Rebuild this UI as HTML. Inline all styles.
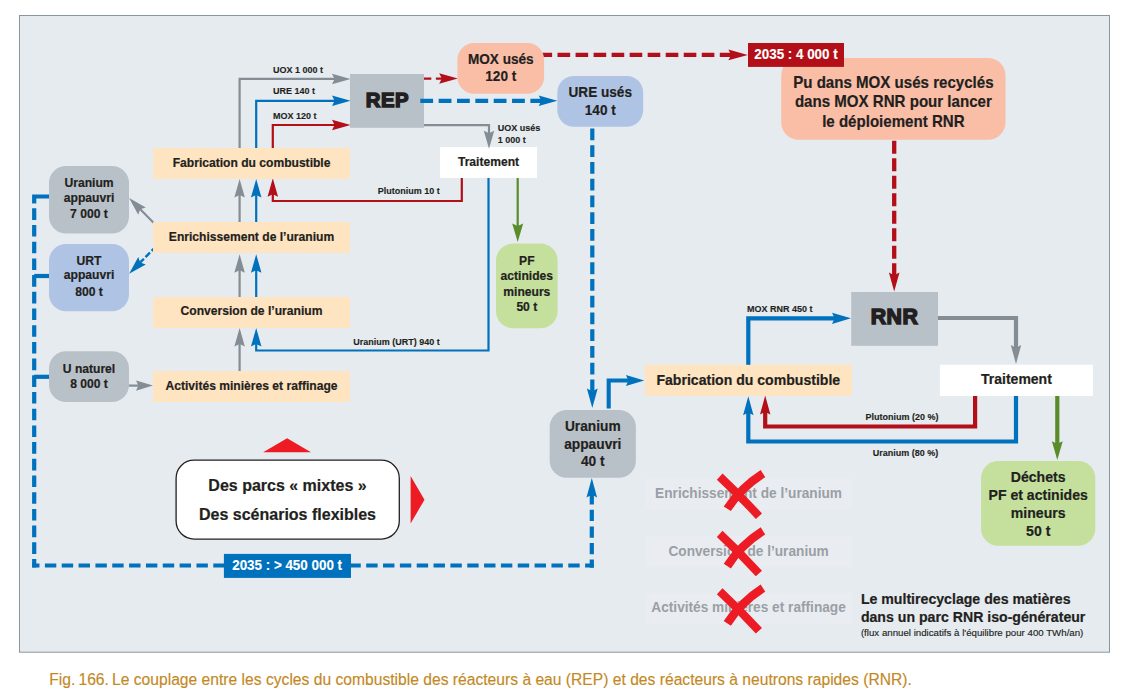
<!DOCTYPE html>
<html lang="fr"><head><meta charset="utf-8"><title>Fig. 166</title>
<style>
html,body{margin:0;padding:0;background:#ffffff;}
body{width:1124px;height:694px;overflow:hidden;}
svg{display:block;font-family:"Liberation Sans",sans-serif;}
</style></head><body>
<svg width="1124" height="694" viewBox="0 0 1124 694">
<rect x="19" y="15" width="1091" height="637.7" fill="#8a969e"/>
<rect x="20" y="16" width="1089" height="635.7" fill="#e6ebf0"/>
<path d="M50 196.5 L34.2 196.5 L34.2 203.2" fill="none" stroke="#0071bc" stroke-width="4.2"/>
<path d="M34.2 203 L34.2 567.5" fill="none" stroke="#0071bc" stroke-width="4.2" stroke-dasharray="11.6 5.1" stroke-dashoffset="11.4"/>
<path d="M32.2 565.5 L224 565.5" fill="none" stroke="#0071bc" stroke-width="4.2" stroke-dasharray="11.4 5.44" stroke-dashoffset="4.14"/>
<path d="M340 565.5 L593.8 565.5" fill="none" stroke="#0071bc" stroke-width="4.2" stroke-dasharray="11.4 5.44" stroke-dashoffset="7.48"/>
<path d="M591.8 567.7 L591.8 494" fill="none" stroke="#0071bc" stroke-width="4.2" stroke-dasharray="11.3 5.3" stroke-dashoffset="3.2"/>
<path d="M34.2 276 L50 276" fill="none" stroke="#0071bc" stroke-width="4.2"/>
<path d="M34.2 376.8 L50 376.8" fill="none" stroke="#0071bc" stroke-width="4.2"/>
<polygon points="591.80,477.90 586.50,497.40 591.80,494.67 597.10,497.40" fill="#0071bc"/>
<path d="M239.6 148 L239.6 78.9 L336 78.9" fill="none" stroke="#838d93" stroke-width="2.2"/>
<polygon points="350.60,78.90 332.00,73.65 334.60,78.90 332.00,84.15" fill="#838d93"/>
<path d="M256.2 148 L256.2 100.8 L336 100.8" fill="none" stroke="#0071bc" stroke-width="2.2"/>
<polygon points="350.60,100.80 332.00,95.55 334.60,100.80 332.00,106.05" fill="#0071bc"/>
<path d="M272.8 148 L272.8 125 L336 125" fill="none" stroke="#b20f19" stroke-width="2.2"/>
<polygon points="350.60,125.00 332.00,119.75 334.60,125.00 332.00,130.25" fill="#b20f19"/>
<path d="M239.6 222 L239.6 193" fill="none" stroke="#838d93" stroke-width="2.2"/>
<polygon points="239.60,179.00 234.35,197.60 239.60,195.00 244.85,197.60" fill="#838d93"/>
<path d="M256.2 222 L256.2 193" fill="none" stroke="#0071bc" stroke-width="2.2"/>
<polygon points="256.20,179.00 250.95,197.60 256.20,195.00 261.45,197.60" fill="#0071bc"/>
<path d="M461.8 178 L461.8 201 L272.8 201 L272.8 193" fill="none" stroke="#b20f19" stroke-width="2.2"/>
<polygon points="272.80,178.20 267.55,196.80 272.80,194.20 278.05,196.80" fill="#b20f19"/>
<path d="M239.6 297 L239.6 268.2" fill="none" stroke="#838d93" stroke-width="2.2"/>
<polygon points="239.60,254.20 234.35,272.80 239.60,270.20 244.85,272.80" fill="#838d93"/>
<path d="M256.2 297 L256.2 268.2" fill="none" stroke="#0071bc" stroke-width="2.2"/>
<polygon points="256.20,254.20 250.95,272.80 256.20,270.20 261.45,272.80" fill="#0071bc"/>
<path d="M239.6 371 L239.6 342" fill="none" stroke="#838d93" stroke-width="2.2"/>
<polygon points="239.60,328.00 234.35,346.60 239.60,344.00 244.85,346.60" fill="#838d93"/>
<path d="M488.5 178 L488.5 350.5 L256.2 350.5 L256.2 342" fill="none" stroke="#0071bc" stroke-width="2.2"/>
<polygon points="256.20,328.00 250.95,346.60 256.20,344.00 261.45,346.60" fill="#0071bc"/>
<path d="M517.7 178 L517.7 228" fill="none" stroke="#5b8c2a" stroke-width="2.2"/>
<polygon points="517.70,242.00 523.20,223.40 517.70,226.00 512.20,223.40" fill="#5b8c2a"/>
<path d="M424 78.6 L446 78.6" fill="none" stroke="#b20f19" stroke-width="2.2" stroke-dasharray="7.3 4.6"/>
<polygon points="457.80,78.60 439.20,73.35 441.80,78.60 439.20,83.85" fill="#b20f19"/>
<path d="M539.5 54.9 L733 54.9" fill="none" stroke="#b20f19" stroke-width="4.3" stroke-dasharray="12.6 5.43"/>
<polygon points="747.80,54.90 728.40,49.50 731.12,54.90 728.40,60.30" fill="#b20f19"/>
<path d="M894.2 140.7 L894.2 276" fill="none" stroke="#b20f19" stroke-width="4.3" stroke-dasharray="13 4.5"/>
<polygon points="894.20,291.60 899.50,272.60 894.20,275.26 888.90,272.60" fill="#b20f19"/>
<path d="M592.3 128.5 L592.3 393" fill="none" stroke="#0071bc" stroke-width="4.2" stroke-dasharray="11.8 4.93"/>
<polygon points="592.30,408.00 597.70,388.60 592.30,391.32 586.90,388.60" fill="#0071bc"/>
<path d="M608.7 408.6 L608.7 380.5 L630 380.5" fill="none" stroke="#0071bc" stroke-width="4.1"/>
<polygon points="644.30,380.50 625.90,374.90 628.48,380.50 625.90,386.10" fill="#0071bc"/>
<path d="M153.8 223 L140 209" fill="none" stroke="#838d93" stroke-width="2.1"/>
<polygon points="129.10,198.00 138.25,214.82 140.21,209.27 145.79,207.38" fill="#838d93"/>
<path d="M153.6 248.9 L140 262.7" fill="none" stroke="#0071bc" stroke-width="2.4" stroke-dasharray="6.4 2.3" stroke-dashoffset="3.6"/>
<polygon points="129.10,273.80 145.79,264.42 140.21,262.53 138.25,256.98" fill="#0071bc"/>
<path d="M128.7 385.6 L141 385.6" fill="none" stroke="#838d93" stroke-width="2.2"/>
<polygon points="153.00,385.60 136.00,380.40 138.38,385.60 136.00,390.80" fill="#838d93"/>
<path d="M748.3 365 L748.3 318.3 L836 318.3" fill="none" stroke="#0071bc" stroke-width="4.2"/>
<polygon points="851.00,318.30 832.00,312.70 834.66,318.30 832.00,323.90" fill="#0071bc"/>
<path d="M938 318 L1016 318 L1016 350" fill="none" stroke="#838d93" stroke-width="4.2"/>
<polygon points="1016.00,364.00 1021.20,345.00 1016.00,347.66 1010.80,345.00" fill="#838d93"/>
<path d="M975.1 396 L975.1 426.5 L765.2 426.5 L765.2 410" fill="none" stroke="#b20f19" stroke-width="4.2"/>
<polygon points="765.20,395.60 760.00,414.60 765.20,411.94 770.40,414.60" fill="#b20f19"/>
<path d="M1016 396 L1016 441.5 L748.3 441.5 L748.3 410" fill="none" stroke="#0071bc" stroke-width="4.2"/>
<polygon points="748.30,396.20 743.10,415.20 748.30,412.54 753.50,415.20" fill="#0071bc"/>
<path d="M1057.3 396 L1057.3 446" fill="none" stroke="#5b8c2a" stroke-width="4.2"/>
<polygon points="1057.30,460.00 1062.70,441.20 1057.30,443.83 1051.90,441.20" fill="#5b8c2a"/>
<rect x="153.2" y="148" width="196.8" height="31" fill="#fee4c0"/>
<text x="251.6" y="167.2" font-size="12.08" text-anchor="middle" font-weight="bold" fill="#231f20" stroke="#231f20" stroke-width="0.2">Fabrication du combustible</text>
<rect x="153" y="222" width="197" height="30.9" fill="#fee4c0"/>
<text x="251.5" y="241.2" font-size="12.1" text-anchor="middle" font-weight="bold" fill="#231f20" stroke="#231f20" stroke-width="0.2">Enrichissement de l’uranium</text>
<rect x="153" y="297" width="197" height="31" fill="#fee4c0"/>
<text x="251.5" y="315.2" font-size="12.1" text-anchor="middle" font-weight="bold" fill="#231f20" stroke="#231f20" stroke-width="0.2">Conversion de l’uranium</text>
<rect x="153" y="371.1" width="197" height="30.9" fill="#fee4c0"/>
<text x="251.5" y="389.9" font-size="12.1" text-anchor="middle" font-weight="bold" fill="#231f20" stroke="#231f20" stroke-width="0.2">Activités minières et raffinage</text>
<rect x="49" y="166" width="80" height="67.5" fill="#b9c1c8" rx="17" ry="17"/>
<text transform="translate(89.0 186.9) scale(0.9709 1)" font-size="12.51" text-anchor="middle" font-weight="bold" fill="#231f20" stroke="#231f20" stroke-width="0.2">Uranium</text>
<text transform="translate(89.0 202.0) scale(0.9709 1)" font-size="12.51" text-anchor="middle" font-weight="bold" fill="#231f20" stroke="#231f20" stroke-width="0.2">appauvri</text>
<text transform="translate(89.0 217.6) scale(0.9709 1)" font-size="12.51" text-anchor="middle" font-weight="bold" fill="#231f20" stroke="#231f20" stroke-width="0.2">7 000 t</text>
<rect x="49" y="244" width="80" height="67.2" fill="#afc4e5" rx="17" ry="17"/>
<text transform="translate(89.0 265.2) scale(0.9709 1)" font-size="12.51" text-anchor="middle" font-weight="bold" fill="#231f20" stroke="#231f20" stroke-width="0.2">URT</text>
<text transform="translate(89.0 279.4) scale(0.9709 1)" font-size="12.51" text-anchor="middle" font-weight="bold" fill="#231f20" stroke="#231f20" stroke-width="0.2">appauvri</text>
<text transform="translate(89.0 296.0) scale(0.9709 1)" font-size="12.51" text-anchor="middle" font-weight="bold" fill="#231f20" stroke="#231f20" stroke-width="0.2">800 t</text>
<rect x="49" y="351.2" width="80" height="50.9" fill="#b9c1c8" rx="17" ry="17"/>
<text x="89.0" y="372.8" font-size="12.1" text-anchor="middle" font-weight="bold" fill="#231f20" stroke="#231f20" stroke-width="0.2">U naturel</text>
<text x="89.0" y="388.1" font-size="12.1" text-anchor="middle" font-weight="bold" fill="#231f20" stroke="#231f20" stroke-width="0.2">8 000 t</text>
<rect x="350" y="74" width="74" height="53.8" fill="#b9c1c8"/>
<path d="M420.3 100.8 L542 100.8" fill="none" stroke="#0071bc" stroke-width="4.2" stroke-dasharray="12.8 5.55"/>
<polygon points="557.30,100.80 538.70,95.50 541.30,100.80 538.70,106.10" fill="#0071bc"/>
<path d="M424 125.1 L489 125.1 L489 136" fill="none" stroke="#838d93" stroke-width="2.2"/>
<text x="387.4" y="106.7" font-size="20.3" text-anchor="middle" font-weight="bold" fill="#231f20" stroke="#231f20" stroke-width="1.5" stroke-linejoin="miter" letter-spacing="0.6">REP</text>
<rect x="457.4" y="43.1" width="86.7" height="50.6" fill="#fabea7" rx="16.5" ry="16.5"/>
<text transform="translate(500.75 63.9) scale(0.8772 1)" font-size="15.50" text-anchor="middle" font-weight="bold" fill="#231f20" stroke="#231f20" stroke-width="0.2">MOX usés</text>
<text transform="translate(500.75 80.9) scale(0.8772 1)" font-size="15.50" text-anchor="middle" font-weight="bold" fill="#231f20" stroke="#231f20" stroke-width="0.2">120 t</text>
<rect x="557.3" y="76" width="85.9" height="50.8" fill="#afc4e5" rx="16.5" ry="16.5"/>
<text transform="translate(600.25 97.1) scale(0.8772 1)" font-size="15.50" text-anchor="middle" font-weight="bold" fill="#231f20" stroke="#231f20" stroke-width="0.2">URE usés</text>
<text transform="translate(600.25 114.8) scale(0.8772 1)" font-size="15.50" text-anchor="middle" font-weight="bold" fill="#231f20" stroke="#231f20" stroke-width="0.2">140 t</text>
<rect x="440" y="147" width="97" height="31" fill="#ffffff"/>
<text x="488.5" y="165.6" font-size="12.1" text-anchor="middle" font-weight="bold" fill="#231f20" stroke="#231f20" stroke-width="0.2">Traitement</text>
<polygon points="489.00,148.80 494.20,130.80 489.00,133.32 483.80,130.80" fill="#838d93"/>
<rect x="496" y="243.6" width="61.6" height="84.7" fill="#c4e09c" rx="17" ry="17"/>
<text x="526.8" y="264.5" font-size="12.1" text-anchor="middle" font-weight="bold" fill="#231f20" stroke="#231f20" stroke-width="0.2">PF</text>
<text x="526.8" y="280.0" font-size="12.1" text-anchor="middle" font-weight="bold" fill="#231f20" stroke="#231f20" stroke-width="0.2">actinides</text>
<text x="526.8" y="295.5" font-size="12.1" text-anchor="middle" font-weight="bold" fill="#231f20" stroke="#231f20" stroke-width="0.2">mineurs</text>
<text x="526.8" y="311.0" font-size="12.1" text-anchor="middle" font-weight="bold" fill="#231f20" stroke="#231f20" stroke-width="0.2">50 t</text>
<rect x="549.7" y="410" width="86.2" height="67.8" fill="#b9c1c8" rx="17" ry="17"/>
<text transform="translate(592.8 430.95) scale(0.9390 1)" font-size="14.64" text-anchor="middle" font-weight="bold" fill="#231f20" stroke="#231f20" stroke-width="0.2">Uranium</text>
<text transform="translate(592.8 448.9) scale(0.9390 1)" font-size="14.64" text-anchor="middle" font-weight="bold" fill="#231f20" stroke="#231f20" stroke-width="0.2">appauvri</text>
<text transform="translate(592.8 465.8) scale(0.9390 1)" font-size="14.64" text-anchor="middle" font-weight="bold" fill="#231f20" stroke="#231f20" stroke-width="0.2">40 t</text>
<rect x="645.1" y="364.8" width="206.9" height="31.1" fill="#fee4c0"/>
<text transform="translate(748.3 384.6) scale(0.9709 1)" font-size="14.50" text-anchor="middle" font-weight="bold" fill="#231f20" stroke="#231f20" stroke-width="0.2">Fabrication du combustible</text>
<rect x="851.2" y="292" width="86.8" height="53.8" fill="#b9c1c8"/>
<text x="894.5" y="323.9" font-size="21.3" text-anchor="middle" font-weight="bold" fill="#231f20" stroke="#231f20" stroke-width="1.5" stroke-linejoin="miter" letter-spacing="0.4">RNR</text>
<rect x="939.9" y="364.7" width="153.1" height="31.3" fill="#ffffff"/>
<text x="1016.45" y="383.6" font-size="14" text-anchor="middle" font-weight="bold" fill="#231f20" stroke="#231f20" stroke-width="0.2">Traitement</text>
<rect x="981.1" y="461" width="114.2" height="84.8" fill="#c4e09c" rx="17" ry="17"/>
<text x="1038.2" y="481.7" font-size="14.08" text-anchor="middle" font-weight="bold" fill="#231f20" stroke="#231f20" stroke-width="0.2">Déchets</text>
<text x="1038.2" y="499.7" font-size="14.08" text-anchor="middle" font-weight="bold" fill="#231f20" stroke="#231f20" stroke-width="0.2">PF et actinides</text>
<text x="1038.2" y="517.7" font-size="14.08" text-anchor="middle" font-weight="bold" fill="#231f20" stroke="#231f20" stroke-width="0.2">mineurs</text>
<text x="1038.2" y="535.7" font-size="14.08" text-anchor="middle" font-weight="bold" fill="#231f20" stroke="#231f20" stroke-width="0.2">50 t</text>
<rect x="781.2" y="57.9" width="224.3" height="81.9" fill="#fabea7" rx="17.5" ry="17.5"/>
<text transform="translate(893.35 87.7) scale(0.9302 1)" font-size="16.23" text-anchor="middle" font-weight="bold" fill="#231f20" stroke="#231f20" stroke-width="0.2">Pu dans MOX usés recyclés</text>
<text transform="translate(893.35 107.15) scale(0.9302 1)" font-size="16.23" text-anchor="middle" font-weight="bold" fill="#231f20" stroke="#231f20" stroke-width="0.2">dans MOX RNR pour lancer</text>
<text transform="translate(893.35 126.6) scale(0.9302 1)" font-size="16.23" text-anchor="middle" font-weight="bold" fill="#231f20" stroke="#231f20" stroke-width="0.2">le déploiement RNR</text>
<rect x="748" y="43" width="96" height="23.9" fill="#b20f19"/>
<text transform="translate(796 59.0) scale(0.8772 1)" font-size="15.28" text-anchor="middle" font-weight="bold" fill="#ffffff" stroke="#ffffff" stroke-width="0.15">2035 : 4 000 t</text>
<rect x="176.1" y="460.2" width="223.2" height="78.9" fill="#ffffff" rx="18" ry="18" stroke="#231f20" stroke-width="1.3"/>
<text x="287.5" y="491.1" font-size="16" text-anchor="middle" font-weight="bold" fill="#231f20" stroke="#231f20" stroke-width="0.2">Des parcs « mixtes »</text>
<text x="287.5" y="519.8" font-size="16" text-anchor="middle" font-weight="bold" fill="#231f20" stroke="#231f20" stroke-width="0.2">Des scénarios flexibles</text>
<rect x="223.9" y="553.9" width="127.1" height="24.0" fill="#0071bc"/>
<text transform="translate(287.1 569.5) scale(0.8772 1)" font-size="15.28" text-anchor="middle" font-weight="bold" fill="#ffffff" stroke="#ffffff" stroke-width="0.15">2035 : &gt; 450 000 t</text>
<polygon points="263.2,452.2 287.1,438.3 311,452.2" fill="#ed1c24"/>
<polygon points="410.6,475.9 424.5,499.7 410.6,523.6" fill="#ed1c24"/>
<rect x="645.1" y="478.9" width="206.9" height="31.1" fill="#e9edf1"/>
<text transform="translate(748.55 497.9) scale(0.9524 1)" font-size="14.36" text-anchor="middle" font-weight="bold" fill="#9a9fa5" stroke="none">Enrichissement de l’uranium</text>
<rect x="645.1" y="536.1" width="206.9" height="31.0" fill="#e9edf1"/>
<text transform="translate(748.55 555.9) scale(0.9524 1)" font-size="14.36" text-anchor="middle" font-weight="bold" fill="#9a9fa5" stroke="none">Conversion de l’uranium</text>
<rect x="645.1" y="593.1" width="206.9" height="30.9" fill="#e9edf1"/>
<text transform="translate(748.55 612.1) scale(0.9524 1)" font-size="14.36" text-anchor="middle" font-weight="bold" fill="#9a9fa5" stroke="none">Activités minières et raffinage</text>
<path d="M719.7 476.6 Q740 495.5 758.9 516.2" stroke="#ed1c24" stroke-width="8.3" fill="none"/>
<path d="M762.95 473.6 Q741 487.5 727.3 508.8" stroke="#ed1c24" stroke-width="8.5" fill="none"/>
<path d="M719.7 533.9 Q740 552.8 758.9 573.5" stroke="#ed1c24" stroke-width="8.3" fill="none"/>
<path d="M762.95 530.9 Q741 544.8 727.3 566.1" stroke="#ed1c24" stroke-width="8.5" fill="none"/>
<path d="M719.7 591.2 Q740 610.1 758.9 630.8" stroke="#ed1c24" stroke-width="8.3" fill="none"/>
<path d="M762.95 588.1 Q741 602.1 727.3 623.4" stroke="#ed1c24" stroke-width="8.5" fill="none"/>
<text x="273" y="72.8" font-size="9" text-anchor="start" font-weight="bold" fill="#231f20" stroke="#231f20" stroke-width="0.12">UOX 1 000 t</text>
<text x="273" y="94.2" font-size="9" text-anchor="start" font-weight="bold" fill="#231f20" stroke="#231f20" stroke-width="0.12">URE 140 t</text>
<text x="273" y="119.2" font-size="9" text-anchor="start" font-weight="bold" fill="#231f20" stroke="#231f20" stroke-width="0.12">MOX 120 t</text>
<text x="377.8" y="193.7" font-size="9" text-anchor="start" font-weight="bold" fill="#231f20" stroke="#231f20" stroke-width="0.12">Plutonium 10 t</text>
<text x="353.3" y="344.7" font-size="9" text-anchor="start" font-weight="bold" fill="#231f20" stroke="#231f20" stroke-width="0.12">Uranium (URT) 940 t</text>
<text x="497.8" y="131.2" font-size="9" text-anchor="start" font-weight="bold" fill="#231f20" stroke="#231f20" stroke-width="0.12">UOX usés</text>
<text x="497.8" y="142.7" font-size="9" text-anchor="start" font-weight="bold" fill="#231f20" stroke="#231f20" stroke-width="0.12">1 000 t</text>
<text x="746.9" y="312.4" font-size="9" text-anchor="start" font-weight="bold" fill="#231f20" stroke="#231f20" stroke-width="0.12">MOX RNR 450 t</text>
<text x="865.5" y="420.2" font-size="9" text-anchor="start" font-weight="bold" fill="#231f20" stroke="#231f20" stroke-width="0.12">Plutonium (20 %)</text>
<text x="872.7" y="456.1" font-size="9" text-anchor="start" font-weight="bold" fill="#231f20" stroke="#231f20" stroke-width="0.12">Uranium (80 %)</text>
<text x="860.9" y="603.9" font-size="14.13" text-anchor="start" font-weight="bold" fill="#231f20" stroke="#231f20" stroke-width="0.2">Le multirecyclage des matières</text>
<text x="860.9" y="621.6" font-size="14.13" text-anchor="start" font-weight="bold" fill="#231f20" stroke="#231f20" stroke-width="0.2">dans un parc RNR iso-générateur</text>
<text x="860.9" y="636" font-size="9.7" text-anchor="start" font-weight="normal" fill="#231f20" stroke="#231f20" stroke-width="0.15">(flux annuel indicatifs à l'équilibre pour 400 TWh/an)</text>
<text x="49.3" y="685.2" font-size="15.65" text-anchor="start" font-weight="normal" fill="#c3891f" xml:space="preserve" stroke="#c3891f" stroke-width="0.15"><tspan word-spacing="-1.25">Fig. 166. </tspan>Le couplage entre les cycles du combustible des réacteurs à eau (REP) et des réacteurs à neutrons rapides (RNR).</text>
</svg>
</body></html>
